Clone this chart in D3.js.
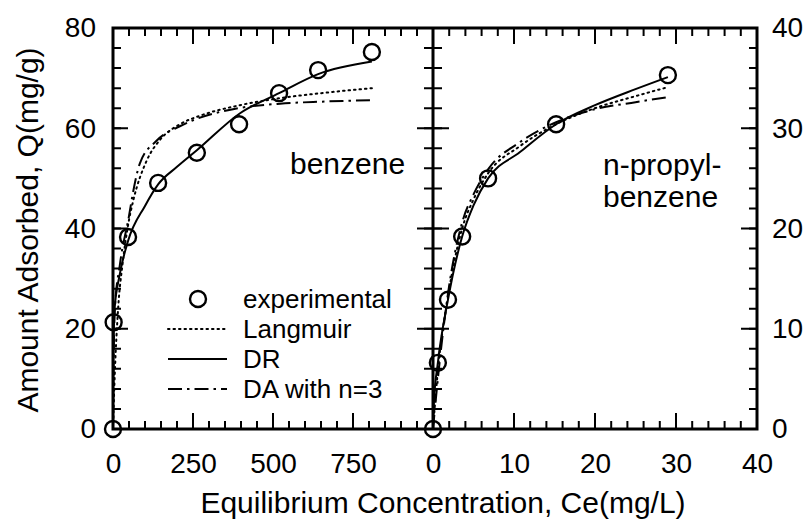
<!DOCTYPE html>
<html>
<head>
<meta charset="utf-8">
<script src="https://cdn.jsdelivr.net/npm/d3@7"></script>
<style>
  body { margin: 0; background: #fff; overflow: hidden; }
  svg { display: block; }
  svg text { font-family: "Liberation Sans", Arial, sans-serif; fill: #000; }
</style>
</head>
<body>
<div id="chart"></div>
<script>
let width = 812, height = 521;

// benzene panel (left)
const benzExpX = [0, 2, 47, 141, 262, 394, 519, 641, 809];
const benzExpY = [0, 21.3, 38.3, 49.1, 55.1, 60.8, 67.0, 71.6, 75.2];
const benzLangX = [0, 5, 16, 30, 48, 63, 105, 147, 209, 272, 397, 522, 650, 809];
const benzLangY = [0, 10, 24, 33, 41, 45.5, 53.5, 57.7, 60.8, 62.5, 64.6, 66, 67, 68];
const benzDRX = [0, 1, 5, 20, 47, 100, 141, 200, 262, 397, 519, 641, 809];
const benzDRY = [0, 14, 24, 30.5, 37.5, 44.5, 48.8, 52.3, 55.6, 63, 67, 70.8, 73.3];
const benzDAX = [0, 2, 6, 22, 50, 62, 84, 136, 209, 250, 375, 522, 650, 809];
const benzDAY = [0, 14, 24, 33, 42.5, 47, 53, 57.5, 60.4, 61.6, 63.8, 64.9, 65.3, 65.6];

// n-propylbenzene panel (right)
const propExpX = [0, 0.6, 1.85, 3.6, 6.8, 15.2, 29.0];
const propExpY = [0, 6.6, 12.9, 19.2, 25.0, 30.4, 35.3];
const propLangX = [0, 0.6, 1.85, 3.6, 5, 6.8, 10.7, 15.2, 20, 25, 29];
const propLangY = [0, 5.8, 13.2, 20, 22.9, 25.5, 28.2, 30.4, 32, 33.2, 34.1];
const propDRX = [0, 0.1, 0.6, 1.85, 3.6, 5, 6.8, 10.7, 15.2, 20, 25, 29];
const propDRY = [0, 2.5, 6.6, 12.9, 19.2, 22.3, 25, 27.6, 30.4, 32.3, 33.9, 35.1];
const propDAX = [0, 0.6, 1.85, 3.6, 5, 6.8, 10.7, 15.2, 20, 25, 29];
const propDAY = [0, 5, 13.5, 20.6, 23.4, 25.9, 28.6, 30.6, 31.9, 32.6, 33.1];

// ticks
const benzXMajor = [0, 250, 500, 750, 1000];
const benzXLabels = ['0', '250', '500', '750', ''];
const propXMajor = [0, 10, 20, 30, 40];
const propXLabels = ['0', '10', '20', '30', '40'];
const leftYMajor = [0, 20, 40, 60, 80];
const rightYMajor = [0, 10, 20, 30, 40];

const legendLabels = ['experimental', 'Langmuir', 'DR', 'DA with n=3'];

const pLeft = 113, pMid = 433, pRight = 757, pTop = 28, pBottom = 429;

const xL = d3.scaleLinear().domain([0, 1000]).range([pLeft, pMid]);
const xR = d3.scaleLinear().domain([0, 40]).range([pMid, pRight]);
const yL = d3.scaleLinear().domain([0, 80]).range([pBottom, pTop]);
const yR = d3.scaleLinear().domain([0, 40]).range([pBottom, pTop]);

const svg = d3.select('#chart').append('svg')
  .attr('width', width)
  .attr('height', height);

const styles = {
  lang: { dash: '1.5,4', cap: 'round' },
  dr: { dash: null, cap: 'butt' },
  da: { dash: '14,5,2.5,5', cap: 'butt' }
};

// frame
svg.append('rect')
  .attr('x', pLeft).attr('y', pTop)
  .attr('width', pRight - pLeft).attr('height', pBottom - pTop)
  .attr('fill', 'none').attr('stroke', '#000').attr('stroke-width', 3);
svg.append('line')
  .attr('x1', pMid).attr('x2', pMid).attr('y1', pTop).attr('y2', pBottom)
  .attr('stroke', '#000').attr('stroke-width', 3);

// tick labels from d3 axes (no tick lines)
const addLabels = (axisFn, scale, tx, ty, major, labels, pad) => {
  const g = svg.append('g').attr('transform', `translate(${tx},${ty})`)
    .call(axisFn(scale).tickValues(major).tickSize(0).tickPadding(pad)
      .tickFormat((d, i) => labels[i]));
  g.select('.domain').remove();
  g.selectAll('.tick line').remove();
  g.selectAll('.tick text').style('font-size', '28px');
};
addLabels(d3.axisBottom, xL, 0, pBottom, benzXMajor, benzXLabels, 24);
addLabels(d3.axisLeft, yL, pLeft, 0, leftYMajor, leftYMajor.map(String), 17);
addLabels(d3.axisBottom, xR, 0, pBottom, propXMajor, propXLabels, 24);
addLabels(d3.axisRight, yR, pRight, 0, rightYMajor, rightYMajor.map(String), 15);

// inward tick marks drawn from the scales
const tickMarks = (scale, values, vert, at, len) => {
  svg.append('path')
    .attr('d', values.map((v) => {
      const p = scale(v);
      return vert ? `M${at},${p}h${len}` : `M${p},${at}v${len}`;
    }).join(''))
    .attr('fill', 'none')
    .attr('stroke', '#000')
    .attr('stroke-width', 2);
};
// x ticks, bottom and top, both panels
[[xL, benzXMajor, d3.range(0, 1001, 50)], [xR, propXMajor, d3.range(0, 41, 2)]].forEach(([s, maj, min]) => {
  tickMarks(s, min, false, pBottom, -8);
  tickMarks(s, maj, false, pBottom, -16);
  tickMarks(s, min, false, pTop, 8);
  tickMarks(s, maj, false, pTop, 16);
});
// y ticks
tickMarks(yL, d3.range(0, 81, 4), true, pLeft, 8);
tickMarks(yL, leftYMajor, true, pLeft, 15);
tickMarks(yL, d3.range(0, 81, 4), true, pMid, -9);
tickMarks(yL, leftYMajor, true, pMid, -16);
tickMarks(yR, d3.range(0, 41, 2), true, pMid, 9);
tickMarks(yR, rightYMajor, true, pMid, 16);
tickMarks(yR, d3.range(0, 41, 2), true, pRight, -8);
tickMarks(yR, rightYMajor, true, pRight, -16);

// curves
const drawCurve = (xs, ys, sx, sy, st) => {
  const line = d3.line()
    .x((d) => sx(d[0]))
    .y((d) => sy(d[1]))
    .curve(d3.curveMonotoneX);
  svg.append('path')
    .datum(xs.map((v, i) => [v, ys[i]]))
    .attr('d', line)
    .attr('fill', 'none')
    .attr('stroke', '#000')
    .attr('stroke-width', 2)
    .attr('stroke-linecap', st.cap)
    .attr('stroke-dasharray', st.dash);
};

drawCurve(benzLangX, benzLangY, xL, yL, styles.lang);
drawCurve(benzDAX, benzDAY, xL, yL, styles.da);
drawCurve(benzDRX, benzDRY, xL, yL, styles.dr);
drawCurve(propLangX, propLangY, xR, yR, styles.lang);
drawCurve(propDAX, propDAY, xR, yR, styles.da);
drawCurve(propDRX, propDRY, xR, yR, styles.dr);

// experimental points
const drawPoints = (xs, ys, sx, sy) => {
  svg.append('g').selectAll('circle')
    .data(xs.map((v, i) => [v, ys[i]]))
    .join('circle')
      .attr('cx', (d) => sx(d[0]))
      .attr('cy', (d) => sy(d[1]))
      .attr('r', 8)
      .attr('fill', 'none')
      .attr('stroke', '#000')
      .attr('stroke-width', 2.4);
};
drawPoints(benzExpX, benzExpY, xL, yL);
drawPoints(propExpX, propExpY, xR, yR);

// panel labels
svg.append('text').attr('x', 290).attr('y', 174).style('font-size', '30px').text('benzene');
svg.append('text').attr('x', 603).attr('y', 175).style('font-size', '30px').text('n-propyl-');
svg.append('text').attr('x', 603).attr('y', 207).style('font-size', '30px').text('benzene');

// legend
const leg = svg.append('g');
legendLabels.forEach((lab, i) => {
  const base = 308 + i * 30;
  const cy = base - 9;
  if (i === 0) {
    leg.append('circle').attr('cx', 198).attr('cy', cy).attr('r', 8)
      .attr('fill', 'none').attr('stroke', '#000').attr('stroke-width', 2.4);
  } else {
    const st = [styles.lang, styles.dr, styles.da][i - 1];
    leg.append('line')
      .attr('x1', 168).attr('x2', 227).attr('y1', cy).attr('y2', cy)
      .attr('stroke', '#000').attr('stroke-width', 2)
      .attr('stroke-linecap', st.cap)
      .attr('stroke-dasharray', st.dash);
  }
  leg.append('text').attr('x', 243).attr('y', base)
    .style('font-size', '26px').text(lab);
});

// axis titles
svg.append('text')
  .attr('x', 443).attr('y', 513)
  .attr('text-anchor', 'middle')
  .style('font-size', '30px')
  .text('Equilibrium Concentration, Ce(mg/L)');
svg.append('text')
  .attr('transform', 'translate(38,230) rotate(-90)')
  .attr('text-anchor', 'middle')
  .style('font-size', '30px')
  .text('Amount Adsorbed, Q(mg/g)');
</script>
</body>
</html>
